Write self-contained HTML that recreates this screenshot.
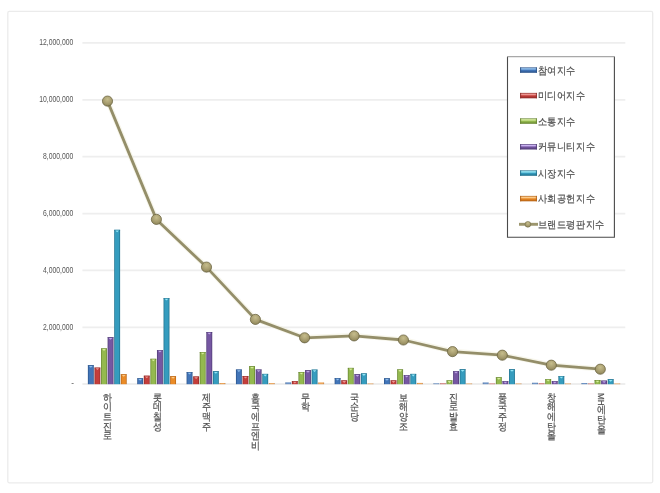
<!DOCTYPE html>
<html lang="ko"><head><meta charset="utf-8"><style>
html,body{margin:0;padding:0;background:#fff;}
body{width:660px;height:493px;overflow:hidden;}
svg{display:block;will-change:transform;filter:blur(0.3px);}
text{font-family:"Liberation Sans",sans-serif;fill:#505050;stroke:#505050;stroke-width:0.22px;}
.yl{font-size:8.2px;stroke-width:0;fill:#555;}
.lg{font-size:10px;}
.cl{font-size:10px;}
.clr{font-size:8.6px;}
</style></head><body>
<svg width="660" height="493" viewBox="0 0 660 493">
<defs><linearGradient id="g0" x1="0" x2="1" y1="0" y2="0"><stop offset="0" stop-color="#274f86"/><stop offset="0.22" stop-color="#4275b8"/><stop offset="0.78" stop-color="#4275b8"/><stop offset="1" stop-color="#274f86"/></linearGradient><linearGradient id="g1" x1="0" x2="1" y1="0" y2="0"><stop offset="0" stop-color="#8a2826"/><stop offset="0.22" stop-color="#c43e3b"/><stop offset="0.78" stop-color="#c43e3b"/><stop offset="1" stop-color="#8a2826"/></linearGradient><linearGradient id="g2" x1="0" x2="1" y1="0" y2="0"><stop offset="0" stop-color="#62802c"/><stop offset="0.22" stop-color="#94b94f"/><stop offset="0.78" stop-color="#94b94f"/><stop offset="1" stop-color="#62802c"/></linearGradient><linearGradient id="g3" x1="0" x2="1" y1="0" y2="0"><stop offset="0" stop-color="#4c3872"/><stop offset="0.22" stop-color="#7657a2"/><stop offset="0.78" stop-color="#7657a2"/><stop offset="1" stop-color="#4c3872"/></linearGradient><linearGradient id="g4" x1="0" x2="1" y1="0" y2="0"><stop offset="0" stop-color="#1d6c88"/><stop offset="0.22" stop-color="#359cbe"/><stop offset="0.78" stop-color="#359cbe"/><stop offset="1" stop-color="#1d6c88"/></linearGradient><linearGradient id="g5" x1="0" x2="1" y1="0" y2="0"><stop offset="0" stop-color="#b05e12"/><stop offset="0.22" stop-color="#ea8b27"/><stop offset="0.78" stop-color="#ea8b27"/><stop offset="1" stop-color="#b05e12"/></linearGradient><linearGradient id="v0" x1="0" x2="0" y1="0" y2="1"><stop offset="0" stop-color="#274f86"/><stop offset="0.25" stop-color="#9ccaf5"/><stop offset="0.55" stop-color="#4275b8"/><stop offset="1" stop-color="#274f86"/></linearGradient><linearGradient id="v1" x1="0" x2="0" y1="0" y2="1"><stop offset="0" stop-color="#8a2826"/><stop offset="0.25" stop-color="#f5a5a0"/><stop offset="0.55" stop-color="#c43e3b"/><stop offset="1" stop-color="#8a2826"/></linearGradient><linearGradient id="v2" x1="0" x2="0" y1="0" y2="1"><stop offset="0" stop-color="#62802c"/><stop offset="0.25" stop-color="#e0f5a8"/><stop offset="0.55" stop-color="#94b94f"/><stop offset="1" stop-color="#62802c"/></linearGradient><linearGradient id="v3" x1="0" x2="0" y1="0" y2="1"><stop offset="0" stop-color="#4c3872"/><stop offset="0.25" stop-color="#cdb5f5"/><stop offset="0.55" stop-color="#7657a2"/><stop offset="1" stop-color="#4c3872"/></linearGradient><linearGradient id="v4" x1="0" x2="0" y1="0" y2="1"><stop offset="0" stop-color="#1d6c88"/><stop offset="0.25" stop-color="#a5f2ff"/><stop offset="0.55" stop-color="#359cbe"/><stop offset="1" stop-color="#1d6c88"/></linearGradient><linearGradient id="v5" x1="0" x2="0" y1="0" y2="1"><stop offset="0" stop-color="#b05e12"/><stop offset="0.25" stop-color="#ffd59a"/><stop offset="0.55" stop-color="#ea8b27"/><stop offset="1" stop-color="#b05e12"/></linearGradient><radialGradient id="mk" cx="0.5" cy="0.32" r="0.7"><stop offset="0" stop-color="#c6bd8c"/><stop offset="0.5" stop-color="#aca274"/><stop offset="0.85" stop-color="#968d60"/><stop offset="1" stop-color="#6c6642"/></radialGradient></defs>
<rect x="7.8" y="11.4" width="644.9" height="471.4" rx="1.5" fill="#fff" stroke="#ebebeb" stroke-width="1.3"/>
<line x1="82.4" x2="625.3" y1="42.9" y2="42.9" stroke="#eeeeee" stroke-width="1.8"/>
<line x1="82.4" x2="625.3" y1="99.783" y2="99.783" stroke="#eeeeee" stroke-width="1.8"/>
<line x1="82.4" x2="625.3" y1="156.666" y2="156.666" stroke="#eeeeee" stroke-width="1.8"/>
<line x1="82.4" x2="625.3" y1="213.549" y2="213.549" stroke="#eeeeee" stroke-width="1.8"/>
<line x1="82.4" x2="625.3" y1="270.432" y2="270.432" stroke="#eeeeee" stroke-width="1.8"/>
<line x1="82.4" x2="625.3" y1="327.315" y2="327.315" stroke="#eeeeee" stroke-width="1.8"/>
<line x1="82.4" x2="625.3" y1="384.0" y2="384.0" stroke="#e8e8e8" stroke-width="1.5"/>
<text transform="translate(73.3 45.20) scale(0.83 1)" text-anchor="end" class="yl">12,000,000</text>
<text transform="translate(73.3 102.08) scale(0.83 1)" text-anchor="end" class="yl">10,000,000</text>
<text transform="translate(73.3 158.97) scale(0.83 1)" text-anchor="end" class="yl">8,000,000</text>
<text transform="translate(73.3 215.85) scale(0.83 1)" text-anchor="end" class="yl">6,000,000</text>
<text transform="translate(73.3 272.73) scale(0.83 1)" text-anchor="end" class="yl">4,000,000</text>
<text transform="translate(73.3 329.62) scale(0.83 1)" text-anchor="end" class="yl">2,000,000</text>
<text x="74" y="386.4" text-anchor="end" class="yl">-</text>
<rect x="87.88" y="365.20" width="5.9" height="19.00" fill="url(#g0)" opacity="1.0"/>
<rect x="87.88" y="365.20" width="5.9" height="0.7" fill="#274f86" opacity="0.8"/>
<path d="M88.98 365.90 L92.68 365.90 L90.83 367.70 Z" fill="#9ccaf5" opacity="0.85"/>
<rect x="94.46" y="367.60" width="5.9" height="16.60" fill="url(#g1)" opacity="1.0"/>
<rect x="94.46" y="367.60" width="5.9" height="0.7" fill="#8a2826" opacity="0.8"/>
<path d="M95.56 368.30 L99.26 368.30 L97.41 370.10 Z" fill="#f5a5a0" opacity="0.85"/>
<rect x="101.04" y="348.40" width="5.9" height="35.80" fill="url(#g2)" opacity="1.0"/>
<rect x="101.04" y="348.40" width="5.9" height="0.7" fill="#62802c" opacity="0.8"/>
<path d="M102.14 349.10 L105.84 349.10 L103.99 350.90 Z" fill="#e0f5a8" opacity="0.85"/>
<rect x="107.62" y="337.20" width="5.9" height="47.00" fill="url(#g3)" opacity="1.0"/>
<rect x="107.62" y="337.20" width="5.9" height="0.7" fill="#4c3872" opacity="0.8"/>
<path d="M108.72 337.90 L112.42 337.90 L110.57 339.70 Z" fill="#cdb5f5" opacity="0.85"/>
<rect x="114.20" y="229.80" width="5.9" height="154.40" fill="url(#g4)" opacity="1.0"/>
<rect x="114.20" y="229.80" width="5.9" height="0.7" fill="#1d6c88" opacity="0.8"/>
<path d="M115.30 230.50 L119.00 230.50 L117.15 232.30 Z" fill="#a5f2ff" opacity="0.85"/>
<rect x="120.78" y="374.30" width="5.9" height="9.90" fill="url(#g5)" opacity="1.0"/>
<rect x="120.78" y="374.30" width="5.9" height="0.7" fill="#b05e12" opacity="0.8"/>
<path d="M121.88 375.00 L125.58 375.00 L123.73 376.80 Z" fill="#ffd59a" opacity="0.85"/>
<rect x="137.23" y="378.30" width="5.9" height="5.90" fill="url(#g0)" opacity="1.0"/>
<rect x="137.23" y="378.30" width="5.9" height="0.7" fill="#274f86" opacity="0.8"/>
<path d="M138.33 379.00 L142.03 379.00 L140.18 380.80 Z" fill="#9ccaf5" opacity="0.85"/>
<rect x="143.81" y="375.70" width="5.9" height="8.50" fill="url(#g1)" opacity="1.0"/>
<rect x="143.81" y="375.70" width="5.9" height="0.7" fill="#8a2826" opacity="0.8"/>
<path d="M144.91 376.40 L148.61 376.40 L146.76 378.20 Z" fill="#f5a5a0" opacity="0.85"/>
<rect x="150.39" y="358.80" width="5.9" height="25.40" fill="url(#g2)" opacity="1.0"/>
<rect x="150.39" y="358.80" width="5.9" height="0.7" fill="#62802c" opacity="0.8"/>
<path d="M151.49 359.50 L155.19 359.50 L153.34 361.30 Z" fill="#e0f5a8" opacity="0.85"/>
<rect x="156.97" y="350.10" width="5.9" height="34.10" fill="url(#g3)" opacity="1.0"/>
<rect x="156.97" y="350.10" width="5.9" height="0.7" fill="#4c3872" opacity="0.8"/>
<path d="M158.07 350.80 L161.77 350.80 L159.92 352.60 Z" fill="#cdb5f5" opacity="0.85"/>
<rect x="163.55" y="298.10" width="5.9" height="86.10" fill="url(#g4)" opacity="1.0"/>
<rect x="163.55" y="298.10" width="5.9" height="0.7" fill="#1d6c88" opacity="0.8"/>
<path d="M164.65 298.80 L168.35 298.80 L166.50 300.60 Z" fill="#a5f2ff" opacity="0.85"/>
<rect x="170.13" y="376.20" width="5.9" height="8.00" fill="url(#g5)" opacity="1.0"/>
<rect x="170.13" y="376.20" width="5.9" height="0.7" fill="#b05e12" opacity="0.8"/>
<path d="M171.23 376.90 L174.93 376.90 L173.08 378.70 Z" fill="#ffd59a" opacity="0.85"/>
<rect x="186.59" y="372.10" width="5.9" height="12.10" fill="url(#g0)" opacity="1.0"/>
<rect x="186.59" y="372.10" width="5.9" height="0.7" fill="#274f86" opacity="0.8"/>
<path d="M187.69 372.80 L191.39 372.80 L189.54 374.60 Z" fill="#9ccaf5" opacity="0.85"/>
<rect x="193.17" y="376.50" width="5.9" height="7.70" fill="url(#g1)" opacity="1.0"/>
<rect x="193.17" y="376.50" width="5.9" height="0.7" fill="#8a2826" opacity="0.8"/>
<path d="M194.27 377.20 L197.97 377.20 L196.12 379.00 Z" fill="#f5a5a0" opacity="0.85"/>
<rect x="199.75" y="352.00" width="5.9" height="32.20" fill="url(#g2)" opacity="1.0"/>
<rect x="199.75" y="352.00" width="5.9" height="0.7" fill="#62802c" opacity="0.8"/>
<path d="M200.85 352.70 L204.55 352.70 L202.70 354.50 Z" fill="#e0f5a8" opacity="0.85"/>
<rect x="206.33" y="332.00" width="5.9" height="52.20" fill="url(#g3)" opacity="1.0"/>
<rect x="206.33" y="332.00" width="5.9" height="0.7" fill="#4c3872" opacity="0.8"/>
<path d="M207.43 332.70 L211.13 332.70 L209.28 334.50 Z" fill="#cdb5f5" opacity="0.85"/>
<rect x="212.91" y="371.20" width="5.9" height="13.00" fill="url(#g4)" opacity="1.0"/>
<rect x="212.91" y="371.20" width="5.9" height="0.7" fill="#1d6c88" opacity="0.8"/>
<path d="M214.01 371.90 L217.71 371.90 L215.86 373.70 Z" fill="#a5f2ff" opacity="0.85"/>
<rect x="219.49" y="383.00" width="5.9" height="1.20" fill="url(#g5)" opacity="0.75"/>
<rect x="235.94" y="369.50" width="5.9" height="14.70" fill="url(#g0)" opacity="1.0"/>
<rect x="235.94" y="369.50" width="5.9" height="0.7" fill="#274f86" opacity="0.8"/>
<path d="M237.04 370.20 L240.74 370.20 L238.89 372.00 Z" fill="#9ccaf5" opacity="0.85"/>
<rect x="242.52" y="376.00" width="5.9" height="8.20" fill="url(#g1)" opacity="1.0"/>
<rect x="242.52" y="376.00" width="5.9" height="0.7" fill="#8a2826" opacity="0.8"/>
<path d="M243.62 376.70 L247.32 376.70 L245.47 378.50 Z" fill="#f5a5a0" opacity="0.85"/>
<rect x="249.10" y="366.20" width="5.9" height="18.00" fill="url(#g2)" opacity="1.0"/>
<rect x="249.10" y="366.20" width="5.9" height="0.7" fill="#62802c" opacity="0.8"/>
<path d="M250.20 366.90 L253.90 366.90 L252.05 368.70 Z" fill="#e0f5a8" opacity="0.85"/>
<rect x="255.68" y="369.50" width="5.9" height="14.70" fill="url(#g3)" opacity="1.0"/>
<rect x="255.68" y="369.50" width="5.9" height="0.7" fill="#4c3872" opacity="0.8"/>
<path d="M256.78 370.20 L260.48 370.20 L258.63 372.00 Z" fill="#cdb5f5" opacity="0.85"/>
<rect x="262.26" y="373.90" width="5.9" height="10.30" fill="url(#g4)" opacity="1.0"/>
<rect x="262.26" y="373.90" width="5.9" height="0.7" fill="#1d6c88" opacity="0.8"/>
<path d="M263.36 374.60 L267.06 374.60 L265.21 376.40 Z" fill="#a5f2ff" opacity="0.85"/>
<rect x="268.84" y="383.10" width="5.9" height="1.10" fill="url(#g5)" opacity="0.75"/>
<rect x="285.30" y="382.30" width="5.9" height="1.90" fill="url(#g0)" opacity="0.75"/>
<rect x="291.88" y="381.10" width="5.9" height="3.10" fill="url(#g1)" opacity="1.0"/>
<rect x="291.88" y="381.10" width="5.9" height="0.7" fill="#8a2826" opacity="0.8"/>
<path d="M292.98 381.80 L296.68 381.80 L294.83 383.60 Z" fill="#f5a5a0" opacity="0.85"/>
<rect x="298.46" y="372.00" width="5.9" height="12.20" fill="url(#g2)" opacity="1.0"/>
<rect x="298.46" y="372.00" width="5.9" height="0.7" fill="#62802c" opacity="0.8"/>
<path d="M299.56 372.70 L303.26 372.70 L301.41 374.50 Z" fill="#e0f5a8" opacity="0.85"/>
<rect x="305.04" y="370.20" width="5.9" height="14.00" fill="url(#g3)" opacity="1.0"/>
<rect x="305.04" y="370.20" width="5.9" height="0.7" fill="#4c3872" opacity="0.8"/>
<path d="M306.14 370.90 L309.84 370.90 L307.99 372.70 Z" fill="#cdb5f5" opacity="0.85"/>
<rect x="311.62" y="369.60" width="5.9" height="14.60" fill="url(#g4)" opacity="1.0"/>
<rect x="311.62" y="369.60" width="5.9" height="0.7" fill="#1d6c88" opacity="0.8"/>
<path d="M312.72 370.30 L316.42 370.30 L314.57 372.10 Z" fill="#a5f2ff" opacity="0.85"/>
<rect x="318.20" y="382.40" width="5.9" height="1.80" fill="url(#g5)" opacity="0.75"/>
<rect x="334.65" y="378.10" width="5.9" height="6.10" fill="url(#g0)" opacity="1.0"/>
<rect x="334.65" y="378.10" width="5.9" height="0.7" fill="#274f86" opacity="0.8"/>
<path d="M335.75 378.80 L339.45 378.80 L337.60 380.60 Z" fill="#9ccaf5" opacity="0.85"/>
<rect x="341.23" y="380.40" width="5.9" height="3.80" fill="url(#g1)" opacity="1.0"/>
<rect x="341.23" y="380.40" width="5.9" height="0.7" fill="#8a2826" opacity="0.8"/>
<path d="M342.33 381.10 L346.03 381.10 L344.18 382.90 Z" fill="#f5a5a0" opacity="0.85"/>
<rect x="347.81" y="367.90" width="5.9" height="16.30" fill="url(#g2)" opacity="1.0"/>
<rect x="347.81" y="367.90" width="5.9" height="0.7" fill="#62802c" opacity="0.8"/>
<path d="M348.91 368.60 L352.61 368.60 L350.76 370.40 Z" fill="#e0f5a8" opacity="0.85"/>
<rect x="354.39" y="374.20" width="5.9" height="10.00" fill="url(#g3)" opacity="1.0"/>
<rect x="354.39" y="374.20" width="5.9" height="0.7" fill="#4c3872" opacity="0.8"/>
<path d="M355.49 374.90 L359.19 374.90 L357.34 376.70 Z" fill="#cdb5f5" opacity="0.85"/>
<rect x="360.97" y="373.40" width="5.9" height="10.80" fill="url(#g4)" opacity="1.0"/>
<rect x="360.97" y="373.40" width="5.9" height="0.7" fill="#1d6c88" opacity="0.8"/>
<path d="M362.07 374.10 L365.77 374.10 L363.92 375.90 Z" fill="#a5f2ff" opacity="0.85"/>
<rect x="367.55" y="383.50" width="5.9" height="0.70" fill="url(#g5)" opacity="0.75"/>
<rect x="384.00" y="378.30" width="5.9" height="5.90" fill="url(#g0)" opacity="1.0"/>
<rect x="384.00" y="378.30" width="5.9" height="0.7" fill="#274f86" opacity="0.8"/>
<path d="M385.10 379.00 L388.80 379.00 L386.95 380.80 Z" fill="#9ccaf5" opacity="0.85"/>
<rect x="390.58" y="380.40" width="5.9" height="3.80" fill="url(#g1)" opacity="1.0"/>
<rect x="390.58" y="380.40" width="5.9" height="0.7" fill="#8a2826" opacity="0.8"/>
<path d="M391.68 381.10 L395.38 381.10 L393.53 382.90 Z" fill="#f5a5a0" opacity="0.85"/>
<rect x="397.16" y="369.40" width="5.9" height="14.80" fill="url(#g2)" opacity="1.0"/>
<rect x="397.16" y="369.40" width="5.9" height="0.7" fill="#62802c" opacity="0.8"/>
<path d="M398.26 370.10 L401.96 370.10 L400.11 371.90 Z" fill="#e0f5a8" opacity="0.85"/>
<rect x="403.74" y="375.10" width="5.9" height="9.10" fill="url(#g3)" opacity="1.0"/>
<rect x="403.74" y="375.10" width="5.9" height="0.7" fill="#4c3872" opacity="0.8"/>
<path d="M404.84 375.80 L408.54 375.80 L406.69 377.60 Z" fill="#cdb5f5" opacity="0.85"/>
<rect x="410.32" y="373.90" width="5.9" height="10.30" fill="url(#g4)" opacity="1.0"/>
<rect x="410.32" y="373.90" width="5.9" height="0.7" fill="#1d6c88" opacity="0.8"/>
<path d="M411.42 374.60 L415.12 374.60 L413.27 376.40 Z" fill="#a5f2ff" opacity="0.85"/>
<rect x="416.90" y="382.90" width="5.9" height="1.30" fill="url(#g5)" opacity="0.75"/>
<rect x="433.36" y="383.30" width="5.9" height="0.90" fill="url(#g0)" opacity="0.75"/>
<rect x="439.94" y="383.30" width="5.9" height="0.90" fill="url(#g1)" opacity="0.75"/>
<rect x="446.52" y="380.40" width="5.9" height="3.80" fill="url(#g2)" opacity="1.0"/>
<rect x="446.52" y="380.40" width="5.9" height="0.7" fill="#62802c" opacity="0.8"/>
<path d="M447.62 381.10 L451.32 381.10 L449.47 382.90 Z" fill="#e0f5a8" opacity="0.85"/>
<rect x="453.10" y="371.10" width="5.9" height="13.10" fill="url(#g3)" opacity="1.0"/>
<rect x="453.10" y="371.10" width="5.9" height="0.7" fill="#4c3872" opacity="0.8"/>
<path d="M454.20 371.80 L457.90 371.80 L456.05 373.60 Z" fill="#cdb5f5" opacity="0.85"/>
<rect x="459.68" y="369.20" width="5.9" height="15.00" fill="url(#g4)" opacity="1.0"/>
<rect x="459.68" y="369.20" width="5.9" height="0.7" fill="#1d6c88" opacity="0.8"/>
<path d="M460.78 369.90 L464.48 369.90 L462.63 371.70 Z" fill="#a5f2ff" opacity="0.85"/>
<rect x="466.26" y="383.50" width="5.9" height="0.70" fill="url(#g5)" opacity="0.75"/>
<rect x="482.71" y="382.40" width="5.9" height="1.80" fill="url(#g0)" opacity="0.75"/>
<rect x="489.29" y="383.50" width="5.9" height="0.70" fill="url(#g1)" opacity="0.75"/>
<rect x="495.87" y="377.30" width="5.9" height="6.90" fill="url(#g2)" opacity="1.0"/>
<rect x="495.87" y="377.30" width="5.9" height="0.7" fill="#62802c" opacity="0.8"/>
<path d="M496.97 378.00 L500.67 378.00 L498.82 379.80 Z" fill="#e0f5a8" opacity="0.85"/>
<rect x="502.45" y="381.10" width="5.9" height="3.10" fill="url(#g3)" opacity="1.0"/>
<rect x="502.45" y="381.10" width="5.9" height="0.7" fill="#4c3872" opacity="0.8"/>
<path d="M503.55 381.80 L507.25 381.80 L505.40 383.60 Z" fill="#cdb5f5" opacity="0.85"/>
<rect x="509.03" y="369.20" width="5.9" height="15.00" fill="url(#g4)" opacity="1.0"/>
<rect x="509.03" y="369.20" width="5.9" height="0.7" fill="#1d6c88" opacity="0.8"/>
<path d="M510.13 369.90 L513.83 369.90 L511.98 371.70 Z" fill="#a5f2ff" opacity="0.85"/>
<rect x="515.61" y="383.50" width="5.9" height="0.70" fill="url(#g5)" opacity="0.75"/>
<rect x="532.07" y="382.70" width="5.9" height="1.50" fill="url(#g0)" opacity="0.75"/>
<rect x="538.65" y="383.30" width="5.9" height="0.90" fill="url(#g1)" opacity="0.75"/>
<rect x="545.23" y="379.10" width="5.9" height="5.10" fill="url(#g2)" opacity="1.0"/>
<rect x="545.23" y="379.10" width="5.9" height="0.7" fill="#62802c" opacity="0.8"/>
<path d="M546.33 379.80 L550.03 379.80 L548.18 381.60 Z" fill="#e0f5a8" opacity="0.85"/>
<rect x="551.81" y="381.10" width="5.9" height="3.10" fill="url(#g3)" opacity="1.0"/>
<rect x="551.81" y="381.10" width="5.9" height="0.7" fill="#4c3872" opacity="0.8"/>
<path d="M552.91 381.80 L556.61 381.80 L554.76 383.60 Z" fill="#cdb5f5" opacity="0.85"/>
<rect x="558.39" y="376.10" width="5.9" height="8.10" fill="url(#g4)" opacity="1.0"/>
<rect x="558.39" y="376.10" width="5.9" height="0.7" fill="#1d6c88" opacity="0.8"/>
<path d="M559.49 376.80 L563.19 376.80 L561.34 378.60 Z" fill="#a5f2ff" opacity="0.85"/>
<rect x="564.97" y="383.50" width="5.9" height="0.70" fill="url(#g5)" opacity="0.75"/>
<rect x="581.42" y="383.00" width="5.9" height="1.20" fill="url(#g0)" opacity="0.75"/>
<rect x="588.00" y="383.50" width="5.9" height="0.70" fill="url(#g1)" opacity="0.75"/>
<rect x="594.58" y="380.00" width="5.9" height="4.20" fill="url(#g2)" opacity="1.0"/>
<rect x="594.58" y="380.00" width="5.9" height="0.7" fill="#62802c" opacity="0.8"/>
<path d="M595.68 380.70 L599.38 380.70 L597.53 382.50 Z" fill="#e0f5a8" opacity="0.85"/>
<rect x="601.16" y="380.60" width="5.9" height="3.60" fill="url(#g3)" opacity="1.0"/>
<rect x="601.16" y="380.60" width="5.9" height="0.7" fill="#4c3872" opacity="0.8"/>
<path d="M602.26 381.30 L605.96 381.30 L604.11 383.10 Z" fill="#cdb5f5" opacity="0.85"/>
<rect x="607.74" y="379.20" width="5.9" height="5.00" fill="url(#g4)" opacity="1.0"/>
<rect x="607.74" y="379.20" width="5.9" height="0.7" fill="#1d6c88" opacity="0.8"/>
<path d="M608.84 379.90 L612.54 379.90 L610.69 381.70 Z" fill="#a5f2ff" opacity="0.85"/>
<rect x="614.32" y="383.50" width="5.9" height="0.70" fill="url(#g5)" opacity="0.75"/>
<polyline points="107.5,100.8 156.4,219.1 206.5,266.8 255.4,319.09999999999997 304.6,337.5 354.1,335.59999999999997 403.4,339.7 452.5,351.3 502.3,354.9 551.3,364.9 600.3,368.9" fill="none" stroke="#f0eed8" stroke-width="5" stroke-linejoin="round" opacity="0.5"/>
<polyline points="107.5,101.1 156.4,219.4 206.5,267.1 255.4,319.4 304.6,337.8 354.1,335.9 403.4,340.0 452.5,351.6 502.3,355.2 551.3,365.2 600.3,369.2" fill="none" stroke="#948e69" stroke-width="2.8" stroke-linejoin="round"/>
<circle cx="107.5" cy="101.1" r="5.1" fill="url(#mk)" stroke="#655f3c" stroke-width="0.7"/>
<circle cx="156.4" cy="219.4" r="5.1" fill="url(#mk)" stroke="#655f3c" stroke-width="0.7"/>
<circle cx="206.5" cy="267.1" r="5.1" fill="url(#mk)" stroke="#655f3c" stroke-width="0.7"/>
<circle cx="255.4" cy="319.4" r="5.1" fill="url(#mk)" stroke="#655f3c" stroke-width="0.7"/>
<circle cx="304.6" cy="337.8" r="5.1" fill="url(#mk)" stroke="#655f3c" stroke-width="0.7"/>
<circle cx="354.1" cy="335.9" r="5.1" fill="url(#mk)" stroke="#655f3c" stroke-width="0.7"/>
<circle cx="403.4" cy="340.0" r="5.1" fill="url(#mk)" stroke="#655f3c" stroke-width="0.7"/>
<circle cx="452.5" cy="351.6" r="5.1" fill="url(#mk)" stroke="#655f3c" stroke-width="0.7"/>
<circle cx="502.3" cy="355.2" r="5.1" fill="url(#mk)" stroke="#655f3c" stroke-width="0.7"/>
<circle cx="551.3" cy="365.2" r="5.1" fill="url(#mk)" stroke="#655f3c" stroke-width="0.7"/>
<circle cx="600.3" cy="369.2" r="5.1" fill="url(#mk)" stroke="#655f3c" stroke-width="0.7"/>
<rect x="507.5" y="56.6" width="107" height="180.6" fill="#fff"/>
<path d="M507.5 56.6 V237.2 H614.4 V56.6" fill="none" stroke="#4a4a4a" stroke-width="1.1"/>
<line x1="507.5" x2="614.4" y1="56.6" y2="56.6" stroke="#a8a8a8" stroke-width="1.1"/>
<rect x="520.2" y="67.40" width="16.6" height="5.4" fill="url(#v0)"/>
<rect x="520.2" y="67.40" width="0.9" height="5.4" fill="#274f86"/>
<rect x="535.9" y="67.40" width="0.9" height="5.4" fill="#274f86"/>
<text transform="translate(537.7 73.50) scale(0.92 1)" class="lg">참여지수</text>
<rect x="520.2" y="92.90" width="16.6" height="5.4" fill="url(#v1)"/>
<rect x="520.2" y="92.90" width="0.9" height="5.4" fill="#8a2826"/>
<rect x="535.9" y="92.90" width="0.9" height="5.4" fill="#8a2826"/>
<text transform="translate(537.7 99.00) scale(0.92 1)" class="lg">미디어지수</text>
<rect x="520.2" y="118.40" width="16.6" height="5.4" fill="url(#v2)"/>
<rect x="520.2" y="118.40" width="0.9" height="5.4" fill="#62802c"/>
<rect x="535.9" y="118.40" width="0.9" height="5.4" fill="#62802c"/>
<text transform="translate(537.7 124.50) scale(0.92 1)" class="lg">소통지수</text>
<rect x="520.2" y="144.10" width="16.6" height="5.4" fill="url(#v3)"/>
<rect x="520.2" y="144.10" width="0.9" height="5.4" fill="#4c3872"/>
<rect x="535.9" y="144.10" width="0.9" height="5.4" fill="#4c3872"/>
<text transform="translate(537.7 150.20) scale(0.92 1)" class="lg">커뮤니티지수</text>
<rect x="520.2" y="170.40" width="16.6" height="5.4" fill="url(#v4)"/>
<rect x="520.2" y="170.40" width="0.9" height="5.4" fill="#1d6c88"/>
<rect x="535.9" y="170.40" width="0.9" height="5.4" fill="#1d6c88"/>
<text transform="translate(537.7 176.50) scale(0.92 1)" class="lg">시장지수</text>
<rect x="520.2" y="195.90" width="16.6" height="5.4" fill="url(#v5)"/>
<rect x="520.2" y="195.90" width="0.9" height="5.4" fill="#b05e12"/>
<rect x="535.9" y="195.90" width="0.9" height="5.4" fill="#b05e12"/>
<text transform="translate(537.7 202.00) scale(0.92 1)" class="lg">사회공헌지수</text>
<line x1="519" x2="538" y1="224.3" y2="224.3" stroke="#9c966e" stroke-width="2.9"/>
<circle cx="527.9" cy="224.3" r="2.9" fill="url(#mk)" stroke="#6a653f" stroke-width="0.5"/>
<text transform="translate(537.7 227.50) scale(0.92 1)" class="lg">브랜드평판지수</text>
<text transform="translate(107.98 400.80) scale(0.9 1)" text-anchor="middle" class="cl">하</text>
<text transform="translate(107.98 410.45) scale(0.9 1)" text-anchor="middle" class="cl">이</text>
<text transform="translate(107.98 420.10) scale(0.9 1)" text-anchor="middle" class="cl">트</text>
<text transform="translate(107.98 429.75) scale(0.9 1)" text-anchor="middle" class="cl">진</text>
<text transform="translate(107.98 439.40) scale(0.9 1)" text-anchor="middle" class="cl">로</text>
<text transform="translate(157.33 400.80) scale(0.9 1)" text-anchor="middle" class="cl">롯</text>
<text transform="translate(157.33 410.45) scale(0.9 1)" text-anchor="middle" class="cl">데</text>
<text transform="translate(157.33 420.10) scale(0.9 1)" text-anchor="middle" class="cl">칠</text>
<text transform="translate(157.33 429.75) scale(0.9 1)" text-anchor="middle" class="cl">성</text>
<text transform="translate(206.69 400.80) scale(0.9 1)" text-anchor="middle" class="cl">제</text>
<text transform="translate(206.69 410.45) scale(0.9 1)" text-anchor="middle" class="cl">주</text>
<text transform="translate(206.69 420.10) scale(0.9 1)" text-anchor="middle" class="cl">맥</text>
<text transform="translate(206.69 429.75) scale(0.9 1)" text-anchor="middle" class="cl">주</text>
<text transform="translate(256.04 400.80) scale(0.9 1)" text-anchor="middle" class="cl">흥</text>
<text transform="translate(256.04 410.45) scale(0.9 1)" text-anchor="middle" class="cl">국</text>
<text transform="translate(256.04 420.10) scale(0.9 1)" text-anchor="middle" class="cl">에</text>
<text transform="translate(256.04 429.75) scale(0.9 1)" text-anchor="middle" class="cl">프</text>
<text transform="translate(256.04 439.40) scale(0.9 1)" text-anchor="middle" class="cl">엔</text>
<text transform="translate(256.04 449.05) scale(0.9 1)" text-anchor="middle" class="cl">비</text>
<text transform="translate(305.40 400.80) scale(0.9 1)" text-anchor="middle" class="cl">무</text>
<text transform="translate(305.40 410.45) scale(0.9 1)" text-anchor="middle" class="cl">학</text>
<text transform="translate(354.75 400.80) scale(0.9 1)" text-anchor="middle" class="cl">국</text>
<text transform="translate(354.75 410.45) scale(0.9 1)" text-anchor="middle" class="cl">순</text>
<text transform="translate(354.75 420.10) scale(0.9 1)" text-anchor="middle" class="cl">당</text>
<text transform="translate(404.10 400.80) scale(0.9 1)" text-anchor="middle" class="cl">보</text>
<text transform="translate(404.10 410.45) scale(0.9 1)" text-anchor="middle" class="cl">해</text>
<text transform="translate(404.10 420.10) scale(0.9 1)" text-anchor="middle" class="cl">양</text>
<text transform="translate(404.10 429.75) scale(0.9 1)" text-anchor="middle" class="cl">조</text>
<text transform="translate(453.46 400.80) scale(0.9 1)" text-anchor="middle" class="cl">진</text>
<text transform="translate(453.46 410.45) scale(0.9 1)" text-anchor="middle" class="cl">로</text>
<text transform="translate(453.46 420.10) scale(0.9 1)" text-anchor="middle" class="cl">발</text>
<text transform="translate(453.46 429.75) scale(0.9 1)" text-anchor="middle" class="cl">효</text>
<text transform="translate(502.81 400.80) scale(0.9 1)" text-anchor="middle" class="cl">풍</text>
<text transform="translate(502.81 410.45) scale(0.9 1)" text-anchor="middle" class="cl">국</text>
<text transform="translate(502.81 420.10) scale(0.9 1)" text-anchor="middle" class="cl">주</text>
<text transform="translate(502.81 429.75) scale(0.9 1)" text-anchor="middle" class="cl">정</text>
<text transform="translate(552.17 400.80) scale(0.9 1)" text-anchor="middle" class="cl">창</text>
<text transform="translate(552.17 410.45) scale(0.9 1)" text-anchor="middle" class="cl">해</text>
<text transform="translate(552.17 420.10) scale(0.9 1)" text-anchor="middle" class="cl">에</text>
<text transform="translate(552.17 429.75) scale(0.9 1)" text-anchor="middle" class="cl">탄</text>
<text transform="translate(552.17 439.40) scale(0.9 1)" text-anchor="middle" class="cl">올</text>
<text transform="translate(598.22 393.00) rotate(90) scale(0.95 1)" class="clr">MH</text>
<text transform="translate(601.52 413.20) scale(0.9 1)" text-anchor="middle" class="cl">에</text>
<text transform="translate(601.52 422.85) scale(0.9 1)" text-anchor="middle" class="cl">탄</text>
<text transform="translate(601.52 432.50) scale(0.9 1)" text-anchor="middle" class="cl">올</text>
</svg></body></html>
